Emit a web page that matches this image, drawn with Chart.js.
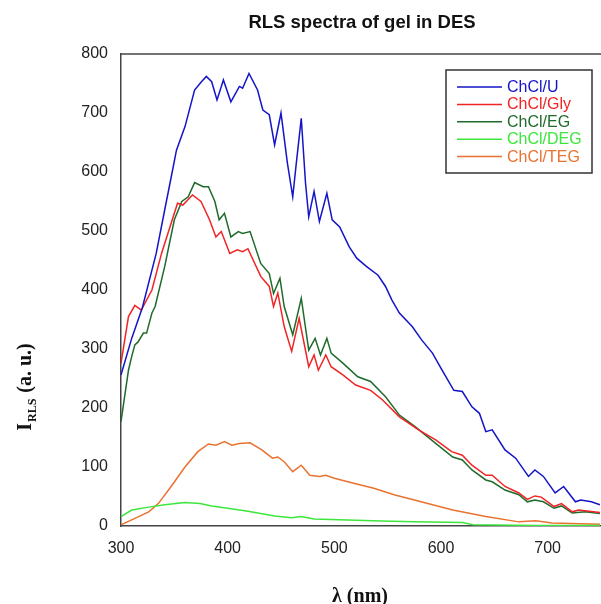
<!DOCTYPE html>
<html>
<head>
<meta charset="utf-8">
<script src="https://cdn.jsdelivr.net/npm/chart.js@4"></script>
<style>
  body { margin: 0; background: #fff; }
  #wrap { width: 601px; height: 604px; }
</style>
</head>
<body>
<div id="wrap"><canvas id="rlsChart" width="601" height="604"></canvas></div>
<script>
// wavelength (nm) / intensity pairs
var uWl  = [300,310,320,333,341,348,352,360,369,375,380,385,390,396,403,411,414,420,428,433,439,444,450,456,461,464,469,473,476,481,486,493,498,505,514,521,530,541,548,554,561,573,582,592,601,612,620,629,636,642,648,660,670,682,688,696,707,715,726,731,741,749];
var uVal = [256,318,370,462,536,600,637,677,739,752,762,753,722,756,719,745,742,767,739,705,697,646,700,615,558,609,691,581,524,567,516,564,519,507,473,454,440,425,406,383,361,338,315,293,264,230,228,202,191,160,163,129,115,84,95,84,56,67,41,44,41,36];

var glyWl  = [300,307,313,319,329,338,347,353,358,367,375,383,389,394,402,409,414,419,431,439,443,447,453,460,467,476,481,485,492,497,508,520,534,545,561,579,595,610,620,629,642,648,660,673,681,688,694,706,713,723,729,749];
var glyVal = [276,355,374,366,400,462,513,547,544,561,550,519,490,499,462,468,465,470,423,406,372,395,338,296,352,270,290,264,290,270,256,239,230,214,185,163,146,126,120,103,86,86,67,56,45,51,49,33,38,24,27,23];

var egWl  = [300,307,310,313,316,321,324,329,332,341,350,357,363,369,377,382,388,392,397,403,410,414,421,431,439,443,449,453,461,469,476,482,487,493,497,508,522,534,548,561,576,595,611,620,629,642,648,660,673,681,688,696,706,713,723,735,749];
var egVal = [177,264,287,307,312,327,327,361,372,440,519,550,558,582,575,575,550,519,530,490,499,496,499,445,428,394,420,372,324,386,298,318,290,318,293,276,253,245,219,188,168,140,117,112,95,78,75,61,53,41,44,41,30,34,22,24,21];

var degWl  = [300,310,326,341,360,374,385,400,419,444,460,469,481,512,544,575,620,630,690,749];
var degVal = [16,27,32,36,40,38,34,30,25,17,14,16,12,10,8.5,7,6,2,1,1];

var tegWl  = [300,313,326,335,347,360,372,382,389,397,404,411,421,432,442,447,453,461,469,477,486,492,500,519,537,556,575,611,642,673,689,704,749];
var tegVal = [2,13,24,38,67,100,126,139,137,143,137,140,141,129,115,117,109,92,103,86,84,86,81,72,64,53,44,27,16,7,9,5,3];

var seriesNames = ['ChCl/U', 'ChCl/Gly', 'ChCl/EG', 'ChCl/DEG', 'ChCl/TEG'];
var seriesColors = ['#1414c8', '#f02424', '#1f6b2c', '#3ce63c', '#ea7230'];

var xTicks = [300, 400, 500, 600, 700];

function pairs(wl, val) {
    return wl.map(function(w, i) { return { x: w, y: val[i] }; });
}

var allData = [pairs(uWl, uVal), pairs(glyWl, glyVal), pairs(egWl, egVal), pairs(degWl, degVal), pairs(tegWl, tegVal)];

var datasets = allData.map(function(d, i) {
    return {
        label: seriesNames[i],
        data: d,
        borderColor: seriesColors[i],
        borderWidth: 1.5,
        pointRadius: 0,
        tension: 0,
        fill: false
    };
});

// titles, top frame line and the boxed legend
var decorations = {
    id: 'decorations',
    afterDraw: function(chart) {
        var ctx = chart.ctx;
        var area = chart.chartArea;
        ctx.save();

        ctx.strokeStyle = '#444';
        ctx.lineWidth = 1.5;
        ctx.beginPath();
        ctx.moveTo(area.left, area.top);
        ctx.lineTo(area.right, area.top);
        ctx.stroke();

        ctx.fillStyle = '#111';
        ctx.textAlign = 'center';
        ctx.textBaseline = 'middle';
        ctx.font = 'bold 18.5px "Liberation Sans", Arial, sans-serif';
        ctx.fillText('RLS spectra of gel in DES', 362, 23);

        ctx.font = 'bold 20px "Liberation Serif", "Times New Roman", serif';
        ctx.fillText('\u03bb (nm)', 360, 597);

        // y title, rotated, with subscript
        ctx.translate(26, 388);
        ctx.rotate(-Math.PI / 2);
        ctx.textAlign = 'left';
        var big = 'bold 20px "Liberation Serif", "Times New Roman", serif';
        var small = 'bold 12px "Liberation Serif", "Times New Roman", serif';
        ctx.font = big;
        var w1 = ctx.measureText('I').width;
        ctx.font = small;
        var w2 = ctx.measureText('RLS').width;
        ctx.font = big;
        var w3 = ctx.measureText(' (a. u.)').width;
        var x0 = -(w1 + w2 + w3) / 2;
        ctx.fillText('I', x0, 0);
        ctx.font = small;
        ctx.fillText('RLS', x0 + w1 + 1, 7);
        ctx.font = big;
        ctx.fillText(' (a. u.)', x0 + w1 + w2 + 2, 0);
        ctx.setTransform(1, 0, 0, 1, 0, 0);

        // legend box
        ctx.strokeStyle = '#333';
        ctx.lineWidth = 1.5;
        ctx.strokeRect(446, 70, 146, 103);
        ctx.font = '16px "Liberation Sans", Arial, sans-serif';
        ctx.textAlign = 'left';
        ctx.textBaseline = 'middle';
        chart.data.datasets.forEach(function(ds, i) {
            var y = 87 + i * 17.4;
            ctx.strokeStyle = ds.borderColor;
            ctx.lineWidth = 1.5;
            ctx.beginPath();
            ctx.moveTo(457, y);
            ctx.lineTo(502, y);
            ctx.stroke();
            ctx.fillStyle = ds.borderColor;
            ctx.fillText(ds.label, 507, y + 0.5);
        });
        ctx.restore();
    }
};

var ctx = document.getElementById('rlsChart').getContext('2d');
var rlsChart = new Chart(ctx, {
    type: 'line',
    data: { datasets: datasets },
    options: {
        responsive: false,
        animation: false,
        layout: {
            padding: { left: 0, top: 54, right: 0, bottom: 38 }
        },
        plugins: {
            legend: { display: false },
            title: { display: false },
            tooltip: { enabled: false }
        },
        scales: {
            x: {
                type: 'linear',
                min: 300,
                max: 750,
                afterBuildTicks: function(scale) {
                    scale.ticks = xTicks.map(function(v) { return { value: v }; });
                },
                afterFit: function(scale) { scale.height = 40; },
                grid: { display: false, drawTicks: false },
                border: { display: true, color: '#444', width: 1.5 },
                ticks: {
                    padding: 13,
                    color: '#222',
                    font: { family: '"Liberation Sans", Arial, sans-serif', size: 16 },
                    maxRotation: 0
                }
            },
            y: {
                min: 0,
                max: 800,
                afterFit: function(scale) { scale.width = 121; },
                grid: { display: false, drawTicks: false },
                border: { display: true, color: '#444', width: 1.5 },
                ticks: {
                    stepSize: 100,
                    padding: 13,
                    color: '#222',
                    font: { family: '"Liberation Sans", Arial, sans-serif', size: 16 }
                }
            }
        }
    },
    plugins: [decorations]
});
</script>
</body>
</html>
